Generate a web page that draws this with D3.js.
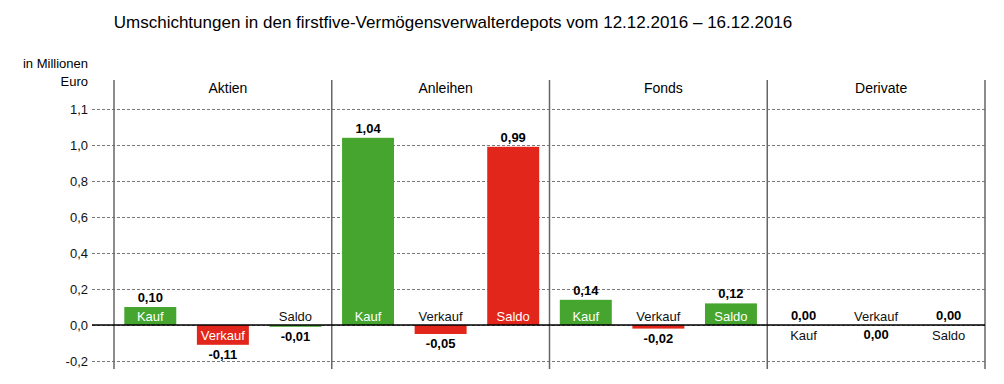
<!DOCTYPE html>
<html>
<head>
<meta charset="utf-8">
<script src="https://d3js.org/d3.v7.min.js"></script>
<style>
  body { margin: 0; background: #fff; }
  text { font-family: "Liberation Sans", Arial, sans-serif; }
</style>
</head>
<body>
<script>
// data
const groups = ['Aktien', 'Anleihen', 'Fonds', 'Derivate'];
const series = ['Kauf', 'Verkauf', 'Saldo'];
const kauf = [0.10, 1.04, 0.14, 0.00];
const verkauf = [-0.11, -0.05, -0.02, -0.00];
const saldo = [-0.01, 0.99, 0.12, 0.00];
const tickValues = [-0.2, 0, 0.2, 0.4, 0.6, 0.8, 1.0, 1.2];
const tickLabels = ['-0,2', '0,0', '0,2', '0,4', '0,6', '0,8', '1,0', '1,1'];

const green = '#46a52e', red = '#e3261b';
const saldoColor = [green, red, green, green];

const W = 1004, H = 384;
const left = 92, right = 985, panelLeft = 114;

const svg = d3.select('body').append('svg')
  .attr('width', W)
  .attr('height', H);

const y = d3.scaleLinear().domain([-0.2, 1.2]).range([361, 109]);
const x0 = d3.scaleBand().domain(groups).range([panelLeft, right]);
const x1 = d3.scaleBand().domain(series).range([0, x0.bandwidth()])
  .paddingInner(0.284).paddingOuter(0.142);

// title
svg.append('text')
  .attr('x', 453).attr('y', 28)
  .attr('text-anchor', 'middle')
  .attr('font-size', 17)
  .text('Umschichtungen in den firstfive-Vermögensverwalterdepots vom 12.12.2016 – 16.12.2016');

// unit
svg.append('text').attr('x', 88).attr('y', 68).attr('text-anchor', 'end')
  .attr('font-size', 13).text('in Millionen');
svg.append('text').attr('x', 88).attr('y', 86).attr('text-anchor', 'end')
  .attr('font-size', 13).text('Euro');

// y axis with dashed grid
const yAxis = d3.axisLeft(y)
  .tickValues(tickValues)
  .tickFormat((d, i) => tickLabels[i])
  .tickSize(-(right - left))
  .tickPadding(4);

const ax = svg.append('g')
  .attr('transform', `translate(${left},0)`)
  .call(yAxis);
ax.select('.domain').remove();
ax.selectAll('.tick line')
  .attr('stroke', '#555')
  .attr('stroke-dasharray', '3,2')
  .attr('stroke-width', 0.8);
ax.selectAll('.tick text')
  .attr('font-size', 13)
  .attr('fill', '#111')
  .style('font-family', '"Liberation Sans", Arial, sans-serif');

// panel dividers
const dividers = groups.map(g => x0(g)).concat([right]);
svg.selectAll('.divider')
  .data(dividers)
  .join('line')
  .attr('class', 'divider')
  .attr('x1', d => d).attr('x2', d => d)
  .attr('y1', 80).attr('y2', 369)
  .attr('stroke', '#666')
  .attr('stroke-width', 1.5);

// panel headers
svg.selectAll('.head')
  .data(groups)
  .join('text')
  .attr('class', 'head')
  .attr('x', d => x0(d) + x0.bandwidth() / 2 + 5)
  .attr('y', 93)
  .attr('text-anchor', 'middle')
  .attr('font-size', 14)
  .text(d => d);

// bars
const rows = [];
groups.forEach((g, i) => {
  rows.push({ g, s: 'Kauf', v: kauf[i], color: green });
  rows.push({ g, s: 'Verkauf', v: verkauf[i], color: red });
  rows.push({ g, s: 'Saldo', v: saldo[i], color: saldoColor[i] });
});

const fmt = v => (v < 0 ? '-' : '') + Math.abs(v).toFixed(2).replace('.', ',');
const isNeg = v => v < 0 || Object.is(v, -0);
const y0 = y(0);

const bar = svg.selectAll('.bar')
  .data(rows)
  .join('g')
  .attr('class', 'bar')
  .attr('transform', d => `translate(${x0(d.g) + x1(d.s)},0)`);

bar.append('rect')
  .attr('x', 0)
  .attr('width', x1.bandwidth())
  .attr('y', d => Math.min(y(d.v), y0))
  .attr('height', d => Math.abs(y(d.v) - y0))
  .attr('fill', d => d.color);

const cx = x1.bandwidth() / 2;

// value labels
bar.append('text')
  .attr('x', cx)
  .attr('y', d => isNeg(d.v) ? y(d.v) + 14 : y(d.v) - 5)
  .attr('text-anchor', 'middle')
  .attr('font-size', 13)
  .attr('font-weight', 'bold')
  .text(d => fmt(d.v));

// series name labels
bar.append('text')
  .attr('x', cx)
  .attr('y', d => {
    const tall = Math.abs(y(d.v) - y0) >= 14;
    if (isNeg(d.v)) return tall ? y0 + 15 : y0 - 4;
    return tall ? y0 - 4 : y0 + 15;
  })
  .attr('text-anchor', 'middle')
  .attr('font-size', 13)
  .attr('fill', d => Math.abs(y(d.v) - y0) >= 14 ? '#fff' : '#111')
  .text(d => d.s);

// zero line
svg.append('line')
  .attr('x1', left).attr('x2', right)
  .attr('y1', y0).attr('y2', y0)
  .attr('stroke', '#000')
  .attr('stroke-width', 1.5);
</script>
</body>
</html>
